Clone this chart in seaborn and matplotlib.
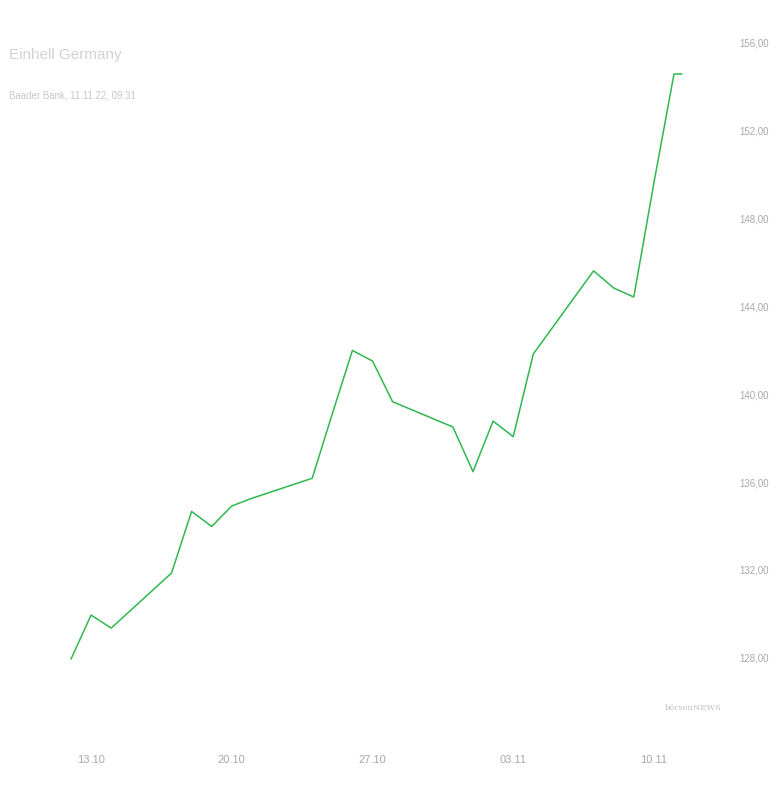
import seaborn as sns
import numpy as np
import pandas as pd
import matplotlib
matplotlib.use('Agg')
import matplotlib.pyplot as plt
import matplotlib.dates as mdates
from matplotlib.ticker import FuncFormatter

# Price data (Baader Bank quotes)
dates = ['2022-10-12 00:00', '2022-10-13 00:00', '2022-10-14 00:00', '2022-10-17 00:00',
         '2022-10-18 00:00', '2022-10-19 00:00', '2022-10-20 00:00', '2022-10-21 00:00',
         '2022-10-24 00:00', '2022-10-25 00:00', '2022-10-26 00:00', '2022-10-27 00:00',
         '2022-10-28 00:00', '2022-10-31 00:00', '2022-11-01 00:00', '2022-11-02 00:00',
         '2022-11-03 00:00', '2022-11-04 00:00', '2022-11-07 00:00', '2022-11-08 00:00',
         '2022-11-09 00:00', '2022-11-10 00:00', '2022-11-11 00:00', '2022-11-11 09:31']
prices = [127.95, 129.95, 129.36, 131.86, 134.66,
          133.98, 134.91, 135.26, 136.17, 139.10,
          141.98, 141.50, 139.65, 138.50, 136.47,
          138.77, 138.06, 141.82, 145.60, 144.82,
          144.41, 149.60, 154.55, 154.55]

x_ticks = ['2022-10-13', '2022-10-20', '2022-10-27', '2022-11-03', '2022-11-10']
y_ticks = [128, 132, 136, 140, 144, 148, 152, 156]

df = pd.DataFrame({'Date': pd.to_datetime(dates, format='%Y-%m-%d %H:%M'), 'Price': prices})

sns.set_style('white')
plt.rcParams['font.family'] = ['DejaVu Sans Condensed', 'Liberation Sans Narrow',
                               'Liberation Sans', 'DejaVu Sans']

fig = plt.figure(figsize=(7.8, 8), dpi=100)
ax = fig.add_axes([0, 0.1, 720 / 780, 0.8625])

sns.lineplot(data=df, x='Date', y='Price', color='#2fb84f', linewidth=1.1, ax=ax)

# x range: roughly 20 px per day, first quote at ~71 px
start = mdates.date2num(pd.Timestamp('2022-10-12'))
ax.set_xlim(start - 71 / 20.1, start + (720 - 71) / 20.1)
ax.set_ylim(125.18, 156.55)

ax.set_xticks(mdates.date2num(pd.to_datetime(x_ticks)))
ax.xaxis.set_major_formatter(mdates.DateFormatter('%d.%m'))
ax.set_yticks(y_ticks)
ax.yaxis.set_major_formatter(FuncFormatter(lambda v, p: f'{v:.2f}'.replace('.', ',')))
ax.yaxis.tick_right()

ax.tick_params(axis='x', length=0, pad=25, labelsize=8, labelcolor='#a8a8a8')
ax.tick_params(axis='y', length=0, pad=14, labelsize=7, labelcolor='#a8a8a8')
ax.set_xlabel('')
ax.set_ylabel('')
sns.despine(ax=ax, left=True, bottom=True, right=True, top=True)

# Title and source
fig.text(9 / 780, 1 - 55 / 800, 'Einhell Germany', fontsize=11, color='#d2d2d2',
         va='center', ha='left')
fig.text(9 / 780, 1 - 96 / 800, 'Baader Bank, 11.11.22, 09:31', fontsize=7,
         color='#c8c8c8', va='center', ha='left')

# watermark
fig.text(722 / 780, 1 - 708 / 800, 'börsenNEWS', fontsize=6, color='#c0c0c0',
         family='DejaVu Serif', va='center', ha='right')

fig.savefig('out.png', dpi=100, facecolor='white')
